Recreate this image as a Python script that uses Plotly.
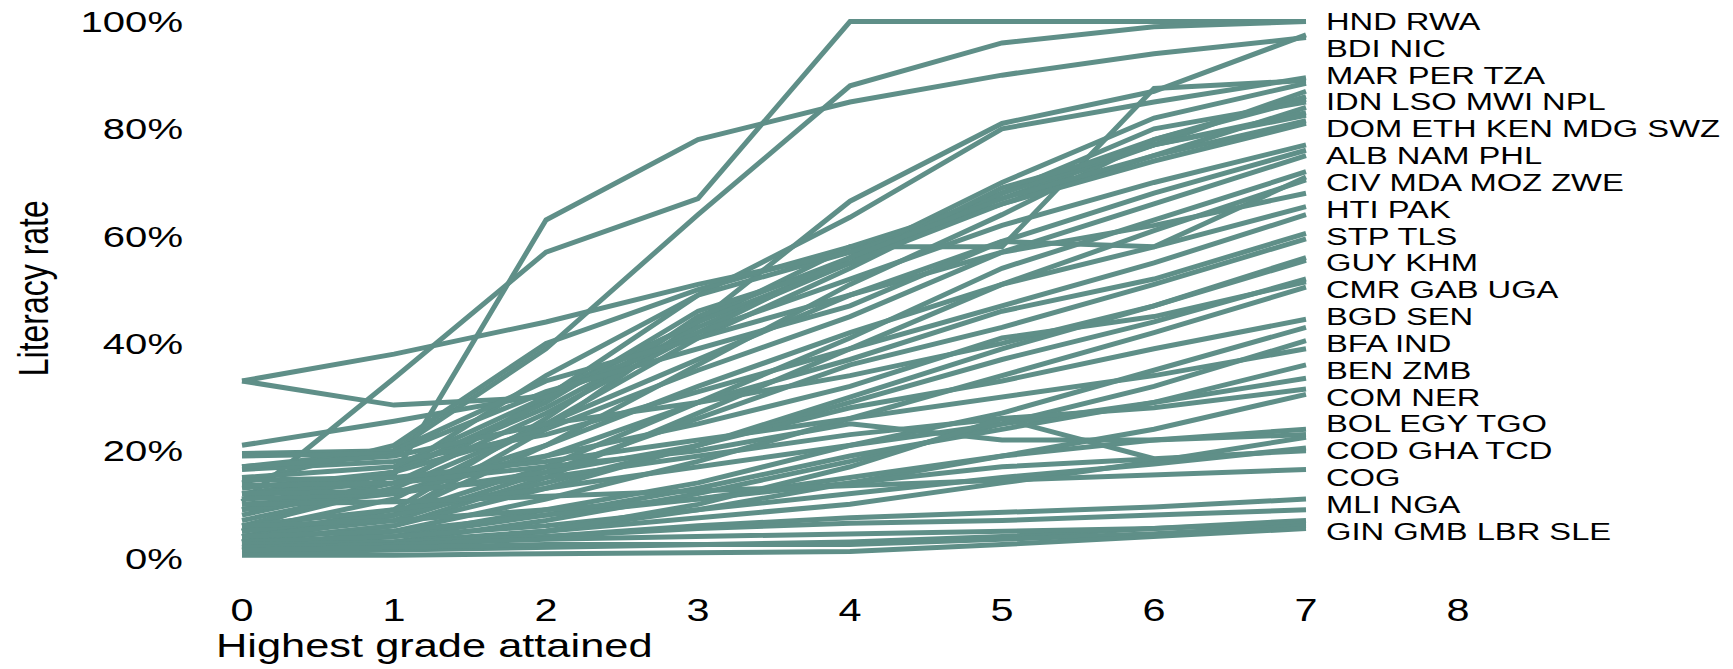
import plotly.graph_objects as go

# Highest grade attained (x) and axis ticks
grades = [0, 1, 2, 3, 4, 5, 6, 7]
grade_ticks = [0, 1, 2, 3, 4, 5, 6, 7, 8]
rate_ticks = [0, 20, 40, 60, 80, 100]
rate_tick_labels = ["0%", "20%", "40%", "60%", "80%", "100%"]

# Literacy rate (%) by highest grade attained, one list per country
HND = [10.5, 33.5, 57, 67, 100, 100, 100, 100]
RWA = [17, 20, 39, 64, 88, 96, 99, 100]
BDI = [3, 8, 24, 44, 66.5, 81, 87, 97.5]
NIC = [5, 15.5, 63, 78, 85, 90, 94, 97]
MAR = [6, 13, 30, 49, 63.5, 80, 85, 89.5]
PER = [21, 25.5, 30.5, 44, 58, 58, 87.5, 89]
TZA = [4, 9, 26, 45, 56, 70, 82, 88.5]
IDN = [14, 21, 40, 50, 58, 67, 77, 87]
LSO = [9, 16, 34, 49, 57, 68, 78, 86]
MWI = [3, 8, 21, 36, 51, 64, 78, 85.5]
NPL = [15, 17, 30, 44, 55, 68, 80, 85]
DOM = [33, 38, 44, 51, 57, 66, 75, 84]
ETH = [5, 11, 25, 41, 54, 68, 77, 83]
KEN = [12, 16, 28, 43, 55, 69, 77, 82.5]
MDG = [8, 14, 27, 42, 56, 67, 75, 81.5]
SWZ = [11, 16, 29, 46, 55, 66, 74, 81]
ALB = [33, 28.5, 30, 42, 52, 62, 70, 77]
NAM = [7, 13, 25, 37, 49, 59, 68, 76]
PHL = [19.5, 20, 33, 41, 49, 57, 66, 75]
CIV = [4, 8, 17, 29, 41, 54, 63, 72]
MDA = [19, 19.5, 31, 39, 47, 59, 58, 71]
MOZ = [3, 6, 15, 27, 39, 51, 61, 70.5]
ZWE = [13, 16, 24, 35, 45, 57, 62, 68]
HTI = [9, 12, 21, 32, 42, 51, 58, 65.5]
PAK = [16.5, 18, 23, 31, 39, 47, 55, 64]
STP = [12, 14, 19, 29, 37, 46, 52, 60.5]
TLS = [4, 7, 16, 26, 36, 43, 51, 59.5]
GUY = [17, 19, 25, 29, 34, 40, 47, 56]
KHM = [5, 8, 14, 21, 30, 39, 47, 55.5]
CMR = [3, 6, 13, 21, 29, 37, 44, 52]
GAB = [10, 12, 19, 25, 32, 41, 45, 51.5]
UGA = [2, 5, 11, 18, 26, 34, 42, 50.5]
BGD = [11, 12, 16, 21, 28, 33, 39, 44.5]
SEN = [2, 4, 9, 14, 21, 27, 35, 43]
BFA = [1.5, 3, 7, 12, 18, 25, 32, 40.5]
IND = [14.5, 15, 18, 22, 26, 30, 34, 39]
BEN = [2.5, 4, 8, 13, 19, 24, 29, 36]
ZMB = [6, 9, 13, 17, 21, 25, 29, 33.5]
COM = [12, 12.5, 15, 19, 23, 26, 28, 31.5]
NER = [1.5, 2.5, 5, 9, 14, 19, 24, 30.5]
BOL = [4, 5, 8, 11, 15, 19, 22, 24]
EGY = [13.5, 14, 17, 20, 25, 22, 22, 23]
TGO = [1.5, 3, 5, 7.5, 10, 14, 18, 22.5]
COD = [3, 4, 6, 9, 12, 15, 17.5, 20.5]
GHA = [6, 7, 9, 11, 14, 17, 18.5, 20]
TCD = [1.5, 2.5, 5, 10, 17, 26, 18.5, None]
COG = [10, 10.5, 11.5, 12.5, 13.5, 14.5, 15.5, 16.5]
MLI = [1.5, 2.5, 4, 6, 7.5, 8.5, 9.5, 11]
NGA = [2.5, 3, 4, 5.5, 6.5, 7, 8, 9]
GIN = [1, 1.5, 2, 2.5, 3, 4, 5.5, 7]
GMB = [2, 2.5, 3.5, 4, 4.5, 5, 5.5, 6.5]
LBR = [1.5, 2, 2.5, 2.5, 2.5, 3.5, 4.5, 6]
SLE = [0.5, 0.5, 0.8, 1, 1.2, 2.5, 4, 5.5]

# Country codes sharing a label at the right-hand end, top to bottom
label_groups = [
    ["HND", "RWA"], ["BDI", "NIC"], ["MAR", "PER", "TZA"],
    ["IDN", "LSO", "MWI", "NPL"], ["DOM", "ETH", "KEN", "MDG", "SWZ"],
    ["ALB", "NAM", "PHL"], ["CIV", "MDA", "MOZ", "ZWE"], ["HTI", "PAK"],
    ["STP", "TLS"], ["GUY", "KHM"], ["CMR", "GAB", "UGA"], ["BGD", "SEN"],
    ["BFA", "IND"], ["BEN", "ZMB"], ["COM", "NER"], ["BOL", "EGY", "TGO"],
    ["COD", "GHA", "TCD"], ["COG"], ["MLI", "NGA"], ["GIN", "GMB", "LBR", "SLE"],
]

literacy = dict(
    HND=HND, RWA=RWA, BDI=BDI, NIC=NIC, MAR=MAR, PER=PER, TZA=TZA, IDN=IDN,
    LSO=LSO, MWI=MWI, NPL=NPL, DOM=DOM, ETH=ETH, KEN=KEN, MDG=MDG, SWZ=SWZ,
    ALB=ALB, NAM=NAM, PHL=PHL, CIV=CIV, MDA=MDA, MOZ=MOZ, ZWE=ZWE, HTI=HTI,
    PAK=PAK, STP=STP, TLS=TLS, GUY=GUY, KHM=KHM, CMR=CMR, GAB=GAB, UGA=UGA,
    BGD=BGD, SEN=SEN, BFA=BFA, IND=IND, BEN=BEN, ZMB=ZMB, COM=COM, NER=NER,
    BOL=BOL, EGY=EGY, TGO=TGO, COD=COD, GHA=GHA, TCD=TCD, COG=COG, MLI=MLI,
    NGA=NGA, GIN=GIN, GMB=GMB, LBR=LBR, SLE=SLE,
)

LINE_COLOR = "#5F8F88"
FONT = '"Liberation Sans", Arial, Helvetica, sans-serif'
TEXT_COLOR = "#000000"

fig = go.Figure()
for code, values in literacy.items():
    fig.add_trace(go.Scatter(
        x=grades, y=values, mode="lines", name=code,
        line=dict(color=LINE_COLOR, width=5),
        hoverinfo="name+y", showlegend=False,
    ))

# Right-hand labels, evenly spaced from the top value downward
annotations = []
label_x = grades[-1] + 0.12
for i, group in enumerate(label_groups):
    annotations.append(dict(
        x=label_x, y=rate_ticks[-1] - 5 * i, xref="x", yref="y",
        text=" ".join(group), showarrow=False,
        xanchor="left", yanchor="middle", align="left",
        font=dict(family=FONT, size=24.5, color=TEXT_COLOR),
    ))

# Axis titles
annotations.append(dict(
    x=0.012, y=-0.1373, xref="paper", yref="paper",
    text="Highest grade attained", showarrow=False,
    xanchor="left", yanchor="middle", align="left",
    font=dict(family=FONT, size=32.5, color=TEXT_COLOR),
))
annotations.append(dict(
    x=-0.106, y=0.5009, xref="paper", yref="paper",
    text="Literacy rate", showarrow=False, textangle=-90,
    xanchor="center", yanchor="middle",
    font=dict(family=FONT, size=32, color=TEXT_COLOR),
))

fig.update_layout(
    width=1733, height=669,
    margin=dict(l=196, r=2, t=8, b=100),
    paper_bgcolor="white", plot_bgcolor="white",
    showlegend=False, hovermode=False,
    font=dict(family=FONT, size=31, color=TEXT_COLOR),
    annotations=annotations,
    xaxis=dict(
        range=[-0.3026, 9.796], tickmode="array", tickvals=grade_ticks,
        showgrid=False, zeroline=False, showline=False, ticks="",
        tickfont=dict(family=FONT, size=31, color=TEXT_COLOR),
        ticklabelstandoff=20,
    ),
    yaxis=dict(
        range=[-2.05, 102.516], tickmode="array", tickvals=rate_ticks,
        ticktext=rate_tick_labels,
        showgrid=False, zeroline=False, showline=False, ticks="",
        tickfont=dict(family=FONT, size=30, color=TEXT_COLOR),
        ticklabelstandoff=12,
    ),
)

# Widen every text element horizontally around its anchor point
STRETCH_JS = """
(function(){
  var SX = 1.335;
  var nodes = Array.prototype.slice.call(document.querySelectorAll('.js-plotly-plot svg text'));
  nodes.forEach(function(t){
    if (!t.textContent || !t.textContent.trim()) return;
    var parent = t.parentNode;
    var svg = t.ownerSVGElement;
    if (!svg || !parent || !parent.getScreenCTM) return;
    var r = t.getBoundingClientRect();
    if (!r.width) return;
    var anchor = t.getAttribute('text-anchor') || 'start';
    var ax = anchor === 'end' ? r.right : (anchor === 'middle' ? (r.left + r.right) / 2 : r.left);
    var P = parent.getScreenCTM();
    var S = svg.createSVGMatrix().translate(ax, 0).scaleNonUniform(SX, 1).translate(-ax, 0);
    var W = P.inverse().multiply(S).multiply(P);
    var g = document.createElementNS('http://www.w3.org/2000/svg', 'g');
    g.setAttribute('transform', 'matrix(' + [W.a, W.b, W.c, W.d, W.e, W.f].join(',') + ')');
    parent.insertBefore(g, t);
    g.appendChild(t);
  });
})();
"""

fig.write_html("out.html", post_script=STRETCH_JS, config={"displayModeBar": False})
